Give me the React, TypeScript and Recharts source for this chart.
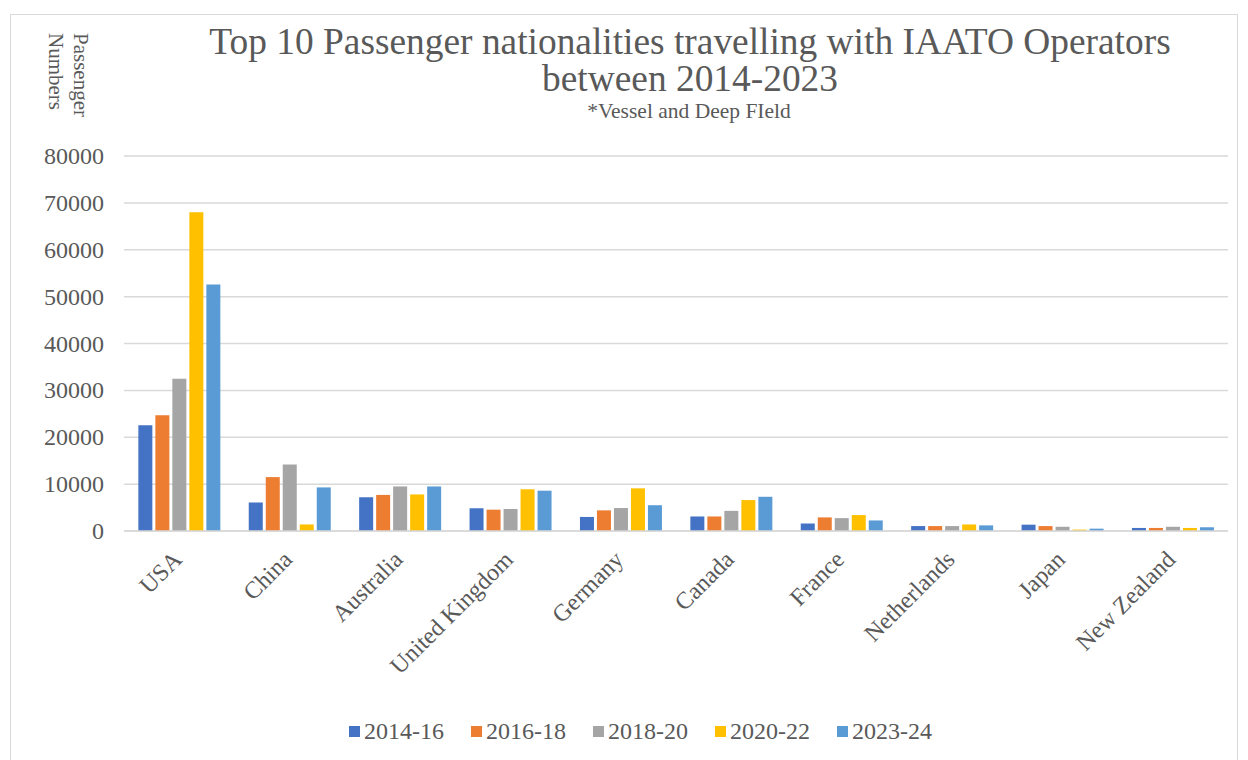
import React from 'react';
import { BarChart, Bar, XAxis, YAxis, CartesianGrid } from 'recharts';

const categories = ['USA', 'China', 'Australia', 'United Kingdom', 'Germany', 'Canada', 'France', 'Netherlands', 'Japan', 'New Zealand'];
const s2014_16 = [22550, 6100, 7200, 4850, 3000, 3100, 1600, 1050, 1350, 650];
const s2016_18 = [24700, 11500, 7700, 4550, 4400, 3100, 2900, 1050, 1050, 650];
const s2018_20 = [32500, 14200, 9500, 4700, 4900, 4300, 2750, 1050, 900, 900];
const s2020_22 = [68000, 1400, 7800, 8900, 9100, 6600, 3400, 1400, 300, 650];
const s2023_24 = [52600, 9300, 9500, 8600, 5500, 7300, 2250, 1200, 500, 800];
const yTicks = [0, 10000, 20000, 30000, 40000, 50000, 60000, 70000, 80000];

const seriesNames = ['2014-16', '2016-18', '2018-20', '2020-22', '2023-24'];
const seriesValues = [s2014_16, s2016_18, s2018_20, s2020_22, s2023_24];
const seriesColors = ['#4472C4', '#ED7D31', '#A5A5A5', '#FFC000', '#5B9BD5'];

const data = categories.map((c, i) => {
  const row: Record<string, string | number> = { name: c };
  seriesNames.forEach((s, j) => {
    row[s] = seriesValues[j][i];
  });
  return row;
});

const FONT = '"Liberation Serif", "Times New Roman", serif';
const TEXT = '#595959';

const XTick = (props: any) => {
  const { x, y, payload } = props;
  return (
    <text
      x={0}
      y={0}
      transform={`translate(${x + 4},${y + 22}) rotate(-45)`}
      textAnchor="end"
      fill={TEXT}
      fontSize={24}
      fontFamily={FONT}
    >
      {payload.value}
    </text>
  );
};

const YTick = (props: any) => {
  const { x, y, payload } = props;
  return (
    <text
      x={x}
      y={y}
      dy={8}
      textAnchor="end"
      fill={TEXT}
      fontSize={24}
      fontFamily={FONT}
    >
      {payload.value}
    </text>
  );
};

export default function App() {
  return (
    <div style={{ position: 'absolute', left: 0, top: 0, width: 1248, height: 760, background: '#fff', fontFamily: FONT, overflow: 'hidden' }}>
      <div style={{ position: 'absolute', left: 10, top: 14, width: 1228, height: 760, border: '1.5px solid #d9d9d9', boxSizing: 'border-box' }} />
      <BarChart
        width={1248}
        height={760}
        data={data}
        margin={{ top: 156, right: 20, bottom: 79, left: 14 }}
        barCategoryGap="13%"
        barGap={3}
        style={{ position: 'absolute', left: 0, top: 0 }}
      >
        <CartesianGrid vertical={false} stroke="#d9d9d9" strokeWidth={1.5} />
        <XAxis
          dataKey="name"
          interval={0}
          height={150}
          tickLine={false}
          axisLine={{ stroke: '#d9d9d9', strokeWidth: 1.5 }}
          tick={<XTick />}
        />
        <YAxis
          width={110}
          domain={[0, 80000]}
          ticks={yTicks}
          axisLine={false}
          tickLine={false}
          tickSize={0}
          tickMargin={20}
          tick={<YTick />}
        />
        {seriesNames.map((s, j) => (
          <Bar key={s} dataKey={s} fill={seriesColors[j]} isAnimationActive={false} />
        ))}
      </BarChart>
      <svg width={1248} height={160} style={{ position: 'absolute', left: 0, top: 0, pointerEvents: 'none' }}>
        <text x={690} y={54} textAnchor="middle" fill={TEXT} fontSize={37.4} fontFamily={FONT}>
          Top 10 Passenger nationalities travelling with IAATO Operators
        </text>
        <text x={690} y={91} textAnchor="middle" fill={TEXT} fontSize={37.4} fontFamily={FONT}>
          between 2014-2023
        </text>
        <text x={689} y={118} textAnchor="middle" fill={TEXT} fontSize={21.5} fontFamily={FONT}>
          *Vessel and Deep FIeld
        </text>
        <text transform="translate(74,33) rotate(90)" fill={TEXT} fontSize={21} fontFamily={FONT}>
          Passenger
        </text>
        <text transform="translate(49,33) rotate(90)" fill={TEXT} fontSize={21} fontFamily={FONT}>
          Numbers
        </text>
      </svg>
      <div style={{ position: 'absolute', left: 349, top: 719, display: 'flex', alignItems: 'center', gap: 27 }}>
        {seriesNames.map((s, j) => (
          <div key={s} style={{ display: 'flex', alignItems: 'center' }}>
            <div style={{ width: 11, height: 11, background: seriesColors[j], marginRight: 4 }} />
            <span style={{ fontSize: 24, lineHeight: '24px', color: TEXT }}>{s}</span>
          </div>
        ))}
      </div>
    </div>
  );
}
